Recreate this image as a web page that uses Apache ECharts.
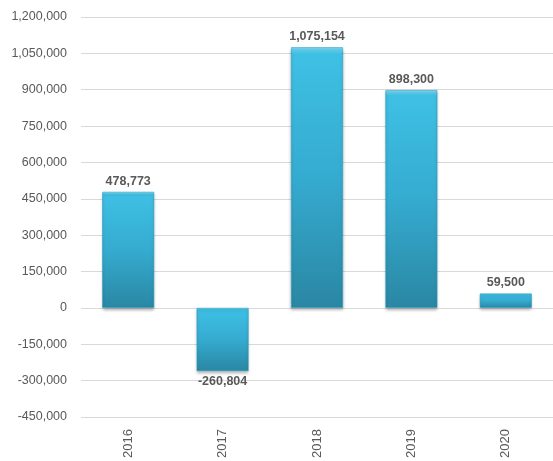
<!DOCTYPE html>
<html>
<head>
<meta charset="utf-8">
<style>
  html, body { margin: 0; padding: 0; background: #fff; }
  #chart { width: 553px; height: 461px; }
</style>
<script src="https://cdn.jsdelivr.net/npm/echarts@6/dist/echarts.min.js"></script>
</head>
<body>
<div id="chart"></div>
<script>
// Yearly values
const years = ['2016', '2017', '2018', '2019', '2020'];
const values = [478773, -260804, 1075154, 898300, 59500];

// Value axis range and step
const axisMin = -450000;
const axisMax = 1200000;
const axisStep = 150000;

const textColor = '#595959';
const fontFamily = '"Liberation Sans", Arial, sans-serif';

const barFill = new echarts.graphic.LinearGradient(0, 0, 0, 1, [
  { offset: 0, color: '#7fdcf4' },
  { offset: 0.025, color: '#3ec0e4' },
  { offset: 0.5, color: '#35abd0' },
  { offset: 1, color: '#2a87a3' }
]);

const chart = echarts.init(document.getElementById('chart'), null, { renderer: 'canvas' });

chart.setOption({
  animation: false,
  grid: { left: 81, right: 0, top: 17, bottom: 44, containLabel: false },
  xAxis: {
    type: 'category',
    data: years,
    position: 'bottom',
    axisLine: { show: false, onZero: false },
    axisTick: { show: false },
    axisLabel: {
      rotate: 90,
      color: textColor,
      fontFamily: fontFamily,
      fontSize: 13,
      margin: 12
    }
  },
  yAxis: {
    type: 'value',
    min: axisMin,
    max: axisMax,
    interval: axisStep,
    axisLine: { show: false },
    axisTick: { show: false },
    splitLine: { lineStyle: { color: '#d9d9d9', width: 1 } },
    axisLabel: {
      color: textColor,
      fontFamily: fontFamily,
      fontSize: 12.5,
      margin: 14,
      formatter: v => v.toLocaleString('en-US')
    }
  },
  series: [{
    type: 'bar',
    barWidth: '55%',
    data: values.map(v => ({
      value: v,
      label: { position: v < 0 ? 'bottom' : 'top' }
    })),
    itemStyle: {
      color: barFill,
      borderColor: '#2f9fc2',
      borderWidth: 0.6,
      shadowColor: 'rgba(0,0,0,0.28)',
      shadowBlur: 3,
      shadowOffsetY: 2
    },
    label: {
      show: true,
      color: textColor,
      fontFamily: fontFamily,
      fontSize: 12.5,
      fontWeight: 'bold',
      distance: 4,
      formatter: p => p.value.toLocaleString('en-US')
    }
  }]
});
</script>
</body>
</html>
